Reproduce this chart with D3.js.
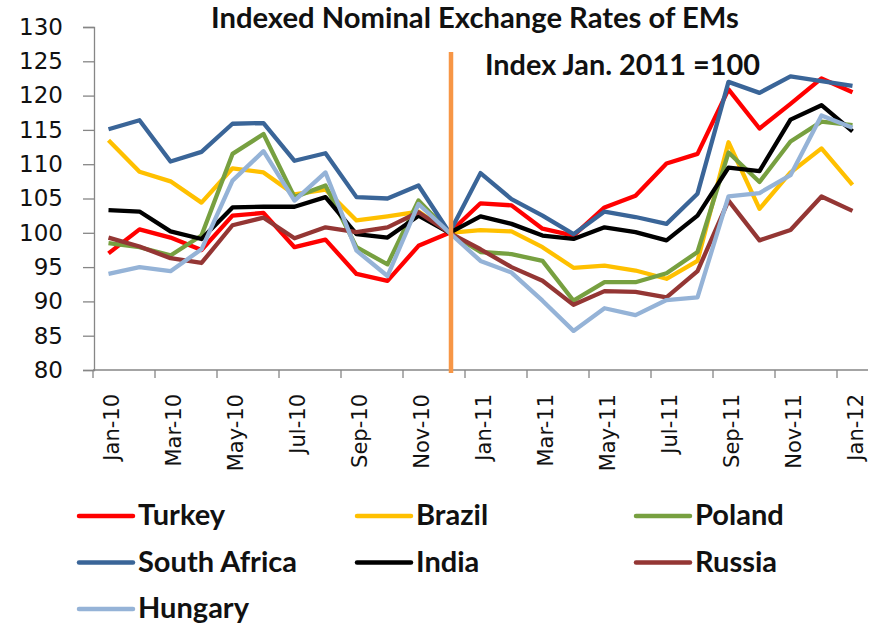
<!DOCTYPE html>
<html>
<head>
<meta charset="utf-8">
<script src="https://cdnjs.cloudflare.com/ajax/libs/d3/7.8.5/d3.min.js"></script>
<style>
    body { margin: 0; background: #fff; }
    svg { display: block; }
</style>
</head>
<body>
<svg id="chart" width="870" height="626"></svg>
<script>
    'use strict';

    var months = ['Jan-10', 'Feb-10', 'Mar-10', 'Apr-10', 'May-10', 'Jun-10', 'Jul-10', 'Aug-10',
        'Sep-10', 'Oct-10', 'Nov-10', 'Dec-10', 'Jan-11', 'Feb-11', 'Mar-11', 'Apr-11', 'May-11',
        'Jun-11', 'Jul-11', 'Aug-11', 'Sep-11', 'Oct-11', 'Nov-11', 'Dec-11', 'Jan-12'];

    var yTicks = [80, 85, 90, 95, 100, 105, 110, 115, 120, 125, 130];

    var turkey = [97.0, 100.5, 99.3, 97.5, 102.5, 102.9, 97.9, 99.0, 94.0, 93.0, 98.1, 100,
        104.3, 104.0, 100.6, 99.6, 103.7, 105.4, 110.1, 111.5, 120.9, 115.2, 118.8, 122.5, 120.5];
    var brazil = [113.5, 108.9, 107.5, 104.4, 109.4, 108.8, 105.6, 106.3, 101.8, 102.4, 103.1, 100,
        100.4, 100.2, 97.9, 94.9, 95.2, 94.5, 93.3, 95.9, 113.2, 103.5, 108.8, 112.3, 107.0];
    var poland = [98.5, 97.9, 96.7, 99.6, 111.5, 114.4, 105.2, 106.9, 97.9, 95.4, 104.7, 100,
        97.2, 96.9, 95.9, 90.1, 92.8, 92.8, 94.1, 97.2, 111.7, 107.4, 113.3, 116.2, 115.7];
    var southAfrica = [115.1, 116.4, 110.4, 111.8, 115.9, 116.0, 110.5, 111.6, 105.2, 105.0, 106.9, 100,
        108.7, 104.9, 102.5, 99.8, 103.1, 102.3, 101.3, 105.7, 122.0, 120.4, 122.8, 122.1, 121.4];
    var india = [103.3, 103.1, 100.2, 99.1, 103.7, 103.8, 103.8, 105.2, 99.8, 99.3, 102.5, 100,
        102.4, 101.3, 99.6, 99.1, 100.8, 100.1, 98.9, 102.5, 109.5, 109.0, 116.5, 118.6, 114.8];
    var russia = [99.3, 98.0, 96.3, 95.6, 101.1, 102.2, 99.2, 100.8, 100.1, 100.8, 103.0, 100,
        97.6, 95.0, 93.0, 89.5, 91.5, 91.4, 90.6, 94.4, 104.7, 98.9, 100.4, 105.3, 103.2];
    var hungary = [94.0, 95.0, 94.4, 97.6, 107.6, 111.9, 104.7, 108.8, 97.4, 93.7, 104.2, 100,
        95.9, 94.2, 90.1, 85.7, 89.0, 88.0, 90.2, 90.6, 105.3, 105.8, 108.4, 117.1, 115.3];

    var seriesNames = ['Turkey', 'Brazil', 'Poland', 'South Africa', 'India', 'Russia', 'Hungary'];
    var seriesValues = [turkey, brazil, poland, southAfrica, india, russia, hungary];
    var seriesColors = ['#ff0000', '#ffc000', '#77a040', '#3a6598', '#000000', '#943634', '#95b3d7'];

    var baseMonth = 'Dec-10';

    var svg = d3.select('#chart');

    var x = d3.scaleBand()
        .domain(months)
        .range([93, 868])
        .paddingInner(0)
        .paddingOuter(0);

    var y = d3.scaleLinear()
        .domain([80, 130])
        .range([370, 27]);

    function cx(m) {
        return x(m) + x.bandwidth() / 2;
    }

    var axisColor = '#868686';

    // y axis
    var yAxis = d3.axisLeft(y)
        .tickValues(yTicks)
        .tickSize(11)
        .tickPadding(20)
        .tickFormat(d3.format('d'));

    var gy = svg.append('g')
        .attr('transform', 'translate(94,0)')
        .call(yAxis);
    gy.select('.domain').attr('stroke', axisColor).attr('stroke-width', 1.3);
    gy.selectAll('.tick line').attr('stroke', axisColor).attr('stroke-width', 1.3);
    gy.selectAll('.tick text')
        .style('font-family', '"DejaVu Sans", Verdana, sans-serif')
        .style('font-size', '23px')
        .attr('fill', '#111');

    // x axis, ticks between categories every two months
    var gx = svg.append('g').attr('class', 'x-axis');
    gx.append('line')
        .attr('x1', x.range()[0]).attr('x2', x.range()[1])
        .attr('y1', y(80)).attr('y2', y(80))
        .attr('stroke', axisColor).attr('stroke-width', 1.3);

    var tickMonths = months.filter(function(d, i) { return i % 2 === 0; });

    gx.selectAll('line.tick')
        .data(tickMonths)
        .enter().append('line')
        .attr('class', 'tick')
        .attr('x1', function(d) { return x(d); })
        .attr('x2', function(d) { return x(d); })
        .attr('y1', y(80))
        .attr('y2', y(80) + 8)
        .attr('stroke', axisColor).attr('stroke-width', 1.3);

    gx.selectAll('text')
        .data(tickMonths)
        .enter().append('text')
        .attr('transform', function(d) {
            return 'translate(' + (cx(d) + 3) + ',' + (y(80) + 24) + ') rotate(-90)';
        })
        .attr('dy', '0.35em')
        .attr('text-anchor', 'end')
        .style('font-family', '"DejaVu Sans", Verdana, sans-serif')
        .style('font-size', '21px')
        .attr('fill', '#111')
        .text(function(d) { return d; });

    // lines, in series order like the original
    var line = d3.line()
        .x(function(d, i) { return cx(months[i]); })
        .y(function(d) { return y(d); });

    svg.append('g')
        .selectAll('path')
        .data(seriesValues)
        .enter().append('path')
        .attr('d', function(d) { return line(d); })
        .attr('fill', 'none')
        .attr('stroke', function(d, i) { return seriesColors[i]; })
        .attr('stroke-width', 4.3)
        .attr('stroke-linejoin', 'round');

    // orange marker at the base month
    svg.append('line')
        .attr('x1', cx(baseMonth) + 1.5).attr('x2', cx(baseMonth) + 1.5)
        .attr('y1', 52).attr('y2', y(80) + 3)
        .attr('stroke', '#f79646')
        .attr('stroke-width', 4.5);

    function fitText(sel, width) {
        var node = sel.node();
        var size = parseFloat(sel.style('font-size'));
        var len = node.getComputedTextLength();
        sel.style('font-size', (size * width / len).toFixed(2) + 'px');
    }

    var titleFont = 'Lato, "Open Sans", sans-serif';

    var title = svg.append('text')
        .attr('x', 211).attr('y', 28)
        .style('font-family', titleFont)
        .style('font-weight', 'bold')
        .style('font-size', '24px')
        .attr('fill', '#111')
        .text('Indexed Nominal Exchange Rates of EMs');
    fitText(title, 528);

    var subtitle = svg.append('text')
        .attr('x', 485).attr('y', 75)
        .style('font-family', titleFont)
        .style('font-weight', 'bold')
        .style('font-size', '24px')
        .attr('fill', '#111')
        .text('Index Jan. 2011 =100');
    fitText(subtitle, 275);

    // legend
    var legendCols = [79, 357, 636];
    var legendRows = [525, 571.5, 618];

    var legend = svg.append('g')
        .selectAll('g')
        .data(seriesNames)
        .enter().append('g')
        .attr('transform', function(d, i) {
            return 'translate(' + legendCols[i % 3] + ',' + legendRows[Math.floor(i / 3)] + ')';
        });

    legend.append('line')
        .attr('x1', 0).attr('x2', 54)
        .attr('y1', -9).attr('y2', -9)
        .attr('stroke', function(d, i) { return seriesColors[i]; })
        .attr('stroke-width', 4.5)
        .attr('stroke-linecap', 'round');

    legend.append('text')
        .attr('x', 59)
        .style('font-family', titleFont)
        .style('font-weight', 'bold')
        .style('font-size', '24px')
        .attr('fill', '#111')
        .text(function(d) { return d; });

    var sa = legend.filter(function(d) { return d === 'South Africa'; }).select('text');
    fitText(sa, 159);
    var legendSize = sa.style('font-size');
    legend.selectAll('text').style('font-size', legendSize);
</script>
</body>
</html>
